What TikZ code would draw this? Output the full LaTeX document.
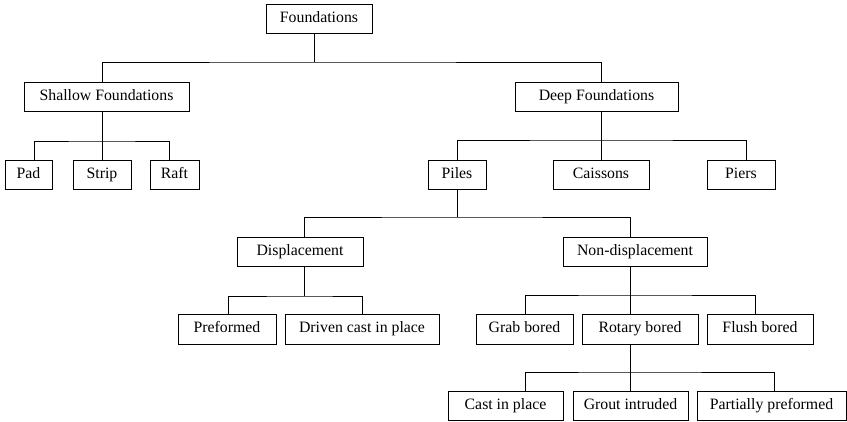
\documentclass[tikz,border=0pt]{standalone}
\usepackage{fontspec}
\setmainfont{Liberation Serif}
\begin{document}
\begin{tikzpicture}[x=1pt,y=-1pt,line width=0.9pt,
  bx/.style={draw,rectangle,inner sep=0pt,text height=10.8pt,text depth=3.6pt,font=\fontsize{15.8}{19}\selectfont},
  conn/.style={draw,line width=0.9pt}]
\useasboundingbox (0,0) rectangle (847,421);
\newcommand\bx[6]{\node[bx,minimum width={#4pt-#2pt},minimum height={#5pt-#3pt}] (#1) at ({(#2+#4)/2},{(#3+#5)/2}) {#6};}
\bx{F}{266}{4}{372}{33}{Foundations}
\bx{SF}{24}{82}{189}{111}{Shallow Foundations}
\bx{DF}{515}{82}{678}{111}{Deep Foundations}
\bx{Pad}{5}{160}{52}{189}{Pad}
\bx{Strip}{73}{160}{131}{189}{Strip}
\bx{Raft}{150}{160}{199}{189}{Raft}
\bx{Piles}{428}{160}{486}{189}{Piles}
\bx{Cais}{553}{160}{649}{189}{Caissons}
\bx{Piers}{707}{160}{775}{189}{Piers}
\bx{Disp}{237}{237}{363}{266}{Displacement}
\bx{NDisp}{563}{237}{707}{266}{Non-displacement}
\bx{Pref}{178}{314}{276}{344}{Preformed}
\bx{Driv}{285}{314}{439}{344}{Driven cast in place}
\bx{Grab}{476}{314}{573}{344}{Grab bored}
\bx{Rot}{582}{314}{698}{344}{Rotary bored}
\bx{Flush}{707}{314}{813}{344}{Flush bored}
\bx{Cast}{448}{391}{563}{420}{Cast in place}
\bx{Grout}{573}{391}{688}{420}{Grout intruded}
\bx{Part}{697}{391}{846}{420}{Partially preformed}
% bus junctions
\coordinate (bF) at (314,62);
\coordinate (bSF) at (102,141);
\coordinate (bDF) at (601,140);
\coordinate (bP) at (457,217);
\coordinate (bD) at (304,296);
\coordinate (bN) at (630,295);
\coordinate (bR) at (630,372);
% Foundations
\draw[conn] ([xshift=-5pt]F.south) -- (bF);
\draw[conn] ([xshift=-4.5pt]SF.north) |- (bF) -| ([xshift=4.5pt]DF.north);
% Shallow
\draw[conn] ([xshift=-4.5pt]SF.south) -- (bSF);
\draw[conn] ([xshift=5.5pt]Pad.north) |- (bSF) -| ([xshift=-5.5pt]Raft.north);
\draw[conn] (bSF) -- (Strip.north);
% Deep
\draw[conn] ([xshift=4.5pt]DF.south) -- (bDF);
\draw[conn] (Piles.north) |- (bDF) -| ([xshift=5pt]Piers.north);
\draw[conn] (bDF) -- (Cais.north);
% Piles
\draw[conn] (Piles.south) -- (bP);
\draw[conn] ([xshift=4pt]Disp.north) |- (bP) -| ([xshift=-5pt]NDisp.north);
% Displacement
\draw[conn] ([xshift=4pt]Disp.south) -- (bD);
\draw[conn] ([xshift=1pt]Pref.north) |- (bD) -| (Driv.north);
% Non-displacement
\draw[conn] ([xshift=-5pt]NDisp.south) -- (bN);
\draw[conn] ([xshift=0.5pt]Grab.north) |- (bN) -| ([xshift=-5pt]Flush.north);
\draw[conn] (bN) -- ([xshift=-10pt]Rot.north);
% Rotary
\draw[conn] ([xshift=-10pt]Rot.south) -- (bR);
\draw[conn] ([xshift=19.5pt]Cast.north) |- (bR) -| ([xshift=2.5pt]Part.north);
\draw[conn] (bR) -- ([xshift=-0.5pt]Grout.north);
\end{tikzpicture}
\end{document}
